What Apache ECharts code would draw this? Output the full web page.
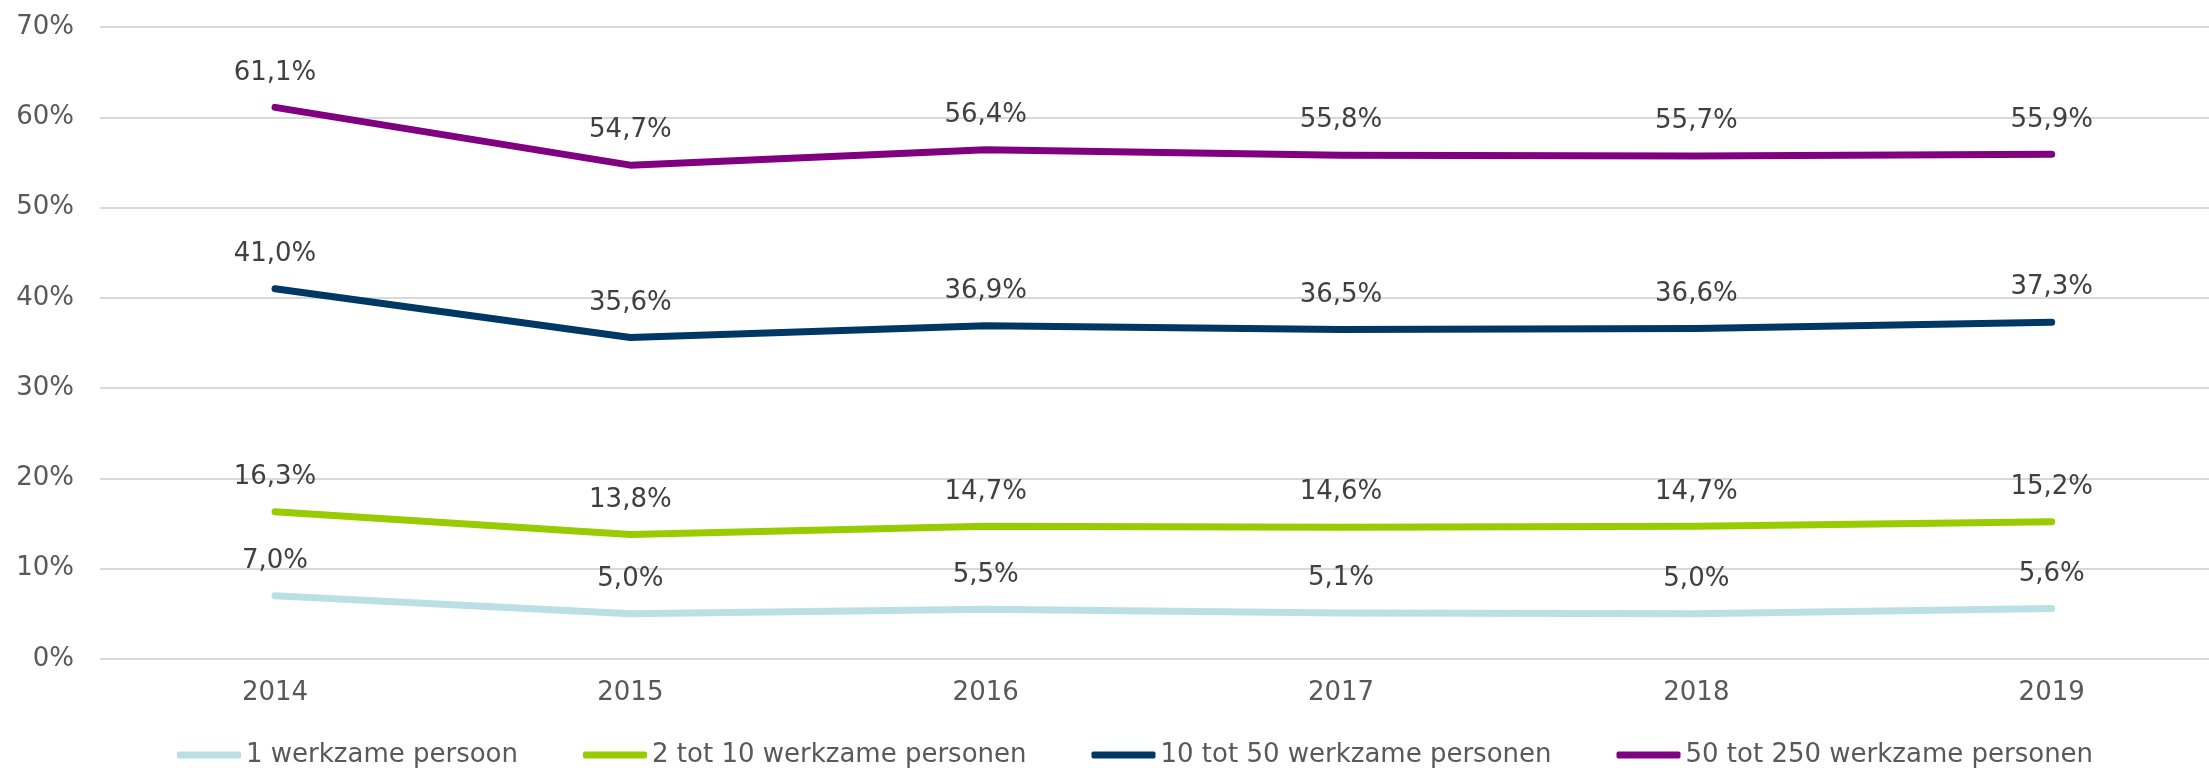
<!DOCTYPE html>
<html>
<head>
<meta charset="utf-8">
<script src="https://cdn.jsdelivr.net/npm/echarts@6/dist/echarts.min.js"></script>
<style>
  html, body { margin: 0; padding: 0; background: #fff; }
  #chart { width: 2209px; height: 768px; }
</style>
</head>
<body>
<div id="chart"></div>
<script>
const years = [2014, 2015, 2016, 2017, 2018, 2019];
const seriesNames = [
    "1 werkzame persoon",
    "2 tot 10 werkzame personen",
    "10 tot 50 werkzame personen",
    "50 tot 250 werkzame personen",
];
const eenPersoon = [7.0, 5.0, 5.5, 5.1, 5.0, 5.6];
const tweeTot10 = [16.3, 13.8, 14.7, 14.6, 14.7, 15.2];
const tienTot50 = [41.0, 35.6, 36.9, 36.5, 36.6, 37.3];
const vijftigTot250 = [61.1, 54.7, 56.4, 55.8, 55.7, 55.9];
const yTicks = [0, 10, 20, 30, 40, 50, 60, 70];

const colors = ["#bae0e3", "#99cc00", "#003865", "#800080"];
const font = "DejaVu Sans, Verdana, sans-serif";

const chart = echarts.init(document.getElementById("chart"));

// build one line series per size class
const values = [eenPersoon, tweeTot10, tienTot50, vijftigTot250];
const series = seriesNames.map((name, i) => ({
    name: name,
    type: "line",
    data: years.map((y, j) => [y, values[i][j]]),
    symbol: "circle",
    symbolSize: 1,
    showSymbol: true,
    itemStyle: { color: colors[i] },
    lineStyle: { color: colors[i], width: 7, cap: "round", join: "round" },
    label: {
        show: true,
        position: "top",
        distance: 21,
        color: "#404040",
        fontFamily: font,
        fontSize: 26,
        formatter: (p) => p.value[1].toFixed(1).replace(".", ",") + "%",
    },
    emphasis: { disabled: true },
    animation: false,
}));

const option = {
    backgroundColor: "#fff",
    animation: false,
    grid: { left: 100, right: 0, top: 27, bottom: 109, containLabel: false },
    xAxis: {
        type: "value",
        min: 2014 - 175 / 355.3,
        max: 2019 + 157.3 / 355.3,
        axisLine: { show: false },
        axisTick: { show: false },
        splitLine: { show: false },
        axisLabel: {
            customValues: years,
            color: "#595959",
            fontFamily: font,
            fontSize: 26,
            margin: 21,
            formatter: (v) => String(v),
        },
    },
    yAxis: {
        type: "value",
        min: yTicks[0],
        max: yTicks[yTicks.length - 1],
        interval: 10,
        axisLine: { show: false },
        axisTick: { show: false },
        splitLine: { lineStyle: { color: "#d9d9d9", width: 2 } },
        axisLabel: {
            color: "#595959",
            fontFamily: font,
            fontSize: 26,
            margin: 26,
            formatter: "{value}%",
        },
    },
    legend: {
        data: seriesNames,
        left: 172,
        top: 737,
        icon: "roundRect",
        itemWidth: 64,
        itemHeight: 7,
        itemGap: 65,
        textStyle: { color: "#595959", fontFamily: font, fontSize: 26 },
    },
    series: series,
};

option && chart.setOption(option);
</script>
</body>
</html>
